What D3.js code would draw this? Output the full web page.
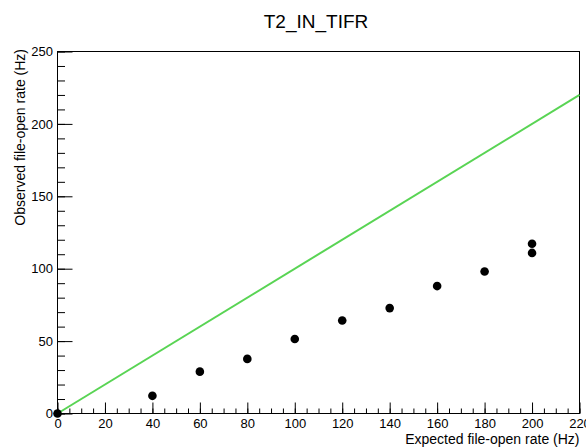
<!DOCTYPE html>
<html>
<head>
<meta charset="utf-8">
<script src="https://cdn.jsdelivr.net/npm/d3@7"></script>
<style>
  body { margin: 0; background: #fff; }
  svg { display: block; font-family: "Liberation Sans", Arial, sans-serif; }
  .axis text { font-size: 13px; fill: #000; }
  .axis line { stroke: #000; }
</style>
</head>
<body>
<div id="chart"></div>
<script>
// observed vs expected file-open rate
const expected = [0, 40, 60, 80, 100, 120, 140, 160, 180, 200, 200];
const observed = [0, 12.2, 28.9, 37.7, 51.5, 64.2, 72.8, 88.0, 98.1, 117.2, 110.9];
const idealX = [0, 220];
const idealY = [0, 220];
const xTicks = [0, 20, 40, 60, 80, 100, 120, 140, 160, 180, 200, 220];
const yTicks = [0, 50, 100, 150, 200, 250];

const W = 586, H = 447;
const margin = { top: 51.5, right: 6.5, bottom: 33.5, left: 57.5 };
const width = W - margin.left - margin.right;
const height = H - margin.top - margin.bottom;

const svg = d3.select("#chart").append("svg")
    .attr("width", W)
    .attr("height", H);

const g = svg.append("g")
    .attr("transform", "translate(" + margin.left + "," + margin.top + ")");

const x = d3.scaleLinear().domain([0, 220]).range([0, width]);
const y = d3.scaleLinear().domain([0, 250]).range([height, 0]);

// minor ticks
g.append("g")
    .attr("class", "axis")
    .attr("transform", "translate(0," + height + ")")
    .call(d3.axisBottom(x).tickValues(d3.range(0, 221, 5)).tickSize(-5).tickFormat(""))
    .call(a => a.select(".domain").remove());

g.append("g")
    .attr("class", "axis")
    .call(d3.axisLeft(y).tickValues(d3.range(0, 251, 10)).tickSize(-7.5).tickFormat(""))
    .call(a => a.select(".domain").remove());

// major ticks + labels
g.append("g")
    .attr("class", "axis")
    .attr("transform", "translate(0," + height + ")")
    .call(d3.axisBottom(x).tickValues(xTicks).tickSize(-11).tickPadding(5).tickFormat(d3.format("d")))
    .call(a => a.select(".domain").remove());

g.append("g")
    .attr("class", "axis")
    .call(d3.axisLeft(y).tickValues(yTicks).tickSize(-15).tickPadding(4.5).tickFormat(d3.format("d")))
    .call(a => a.select(".domain").remove());

// frame
g.append("rect")
    .attr("width", width)
    .attr("height", height)
    .attr("fill", "none")
    .attr("stroke", "#000")
    .attr("stroke-width", 1);

// ideal line y = x
const line = d3.line()
    .x((d, i) => x(idealX[i]))
    .y((d, i) => y(idealY[i]));

g.append("path")
    .datum(idealX)
    .attr("d", line)
    .attr("fill", "none")
    .attr("stroke", "#59d454")
    .attr("stroke-width", 2);

// measured points
g.selectAll(".pt")
    .data(expected)
    .enter().append("circle")
    .attr("class", "pt")
    .attr("cx", d => x(d))
    .attr("cy", (d, i) => y(observed[i]))
    .attr("r", 4.3)
    .attr("fill", "#000");

// titles
svg.append("text")
    .attr("x", 316)
    .attr("y", 28)
    .attr("text-anchor", "middle")
    .style("font-size", "19px")
    .text("T2_IN_TIFR");

svg.append("text")
    .attr("x", margin.left + width)
    .attr("y", 444)
    .attr("text-anchor", "end")
    .style("font-size", "14px")
    .text("Expected file-open rate (Hz)");

svg.append("text")
    .attr("transform", "translate(25," + 49 + ") rotate(-90)")
    .attr("text-anchor", "end")
    .style("font-size", "14px")
    .text("Observed file-open rate (Hz)");
</script>
</body>
</html>
